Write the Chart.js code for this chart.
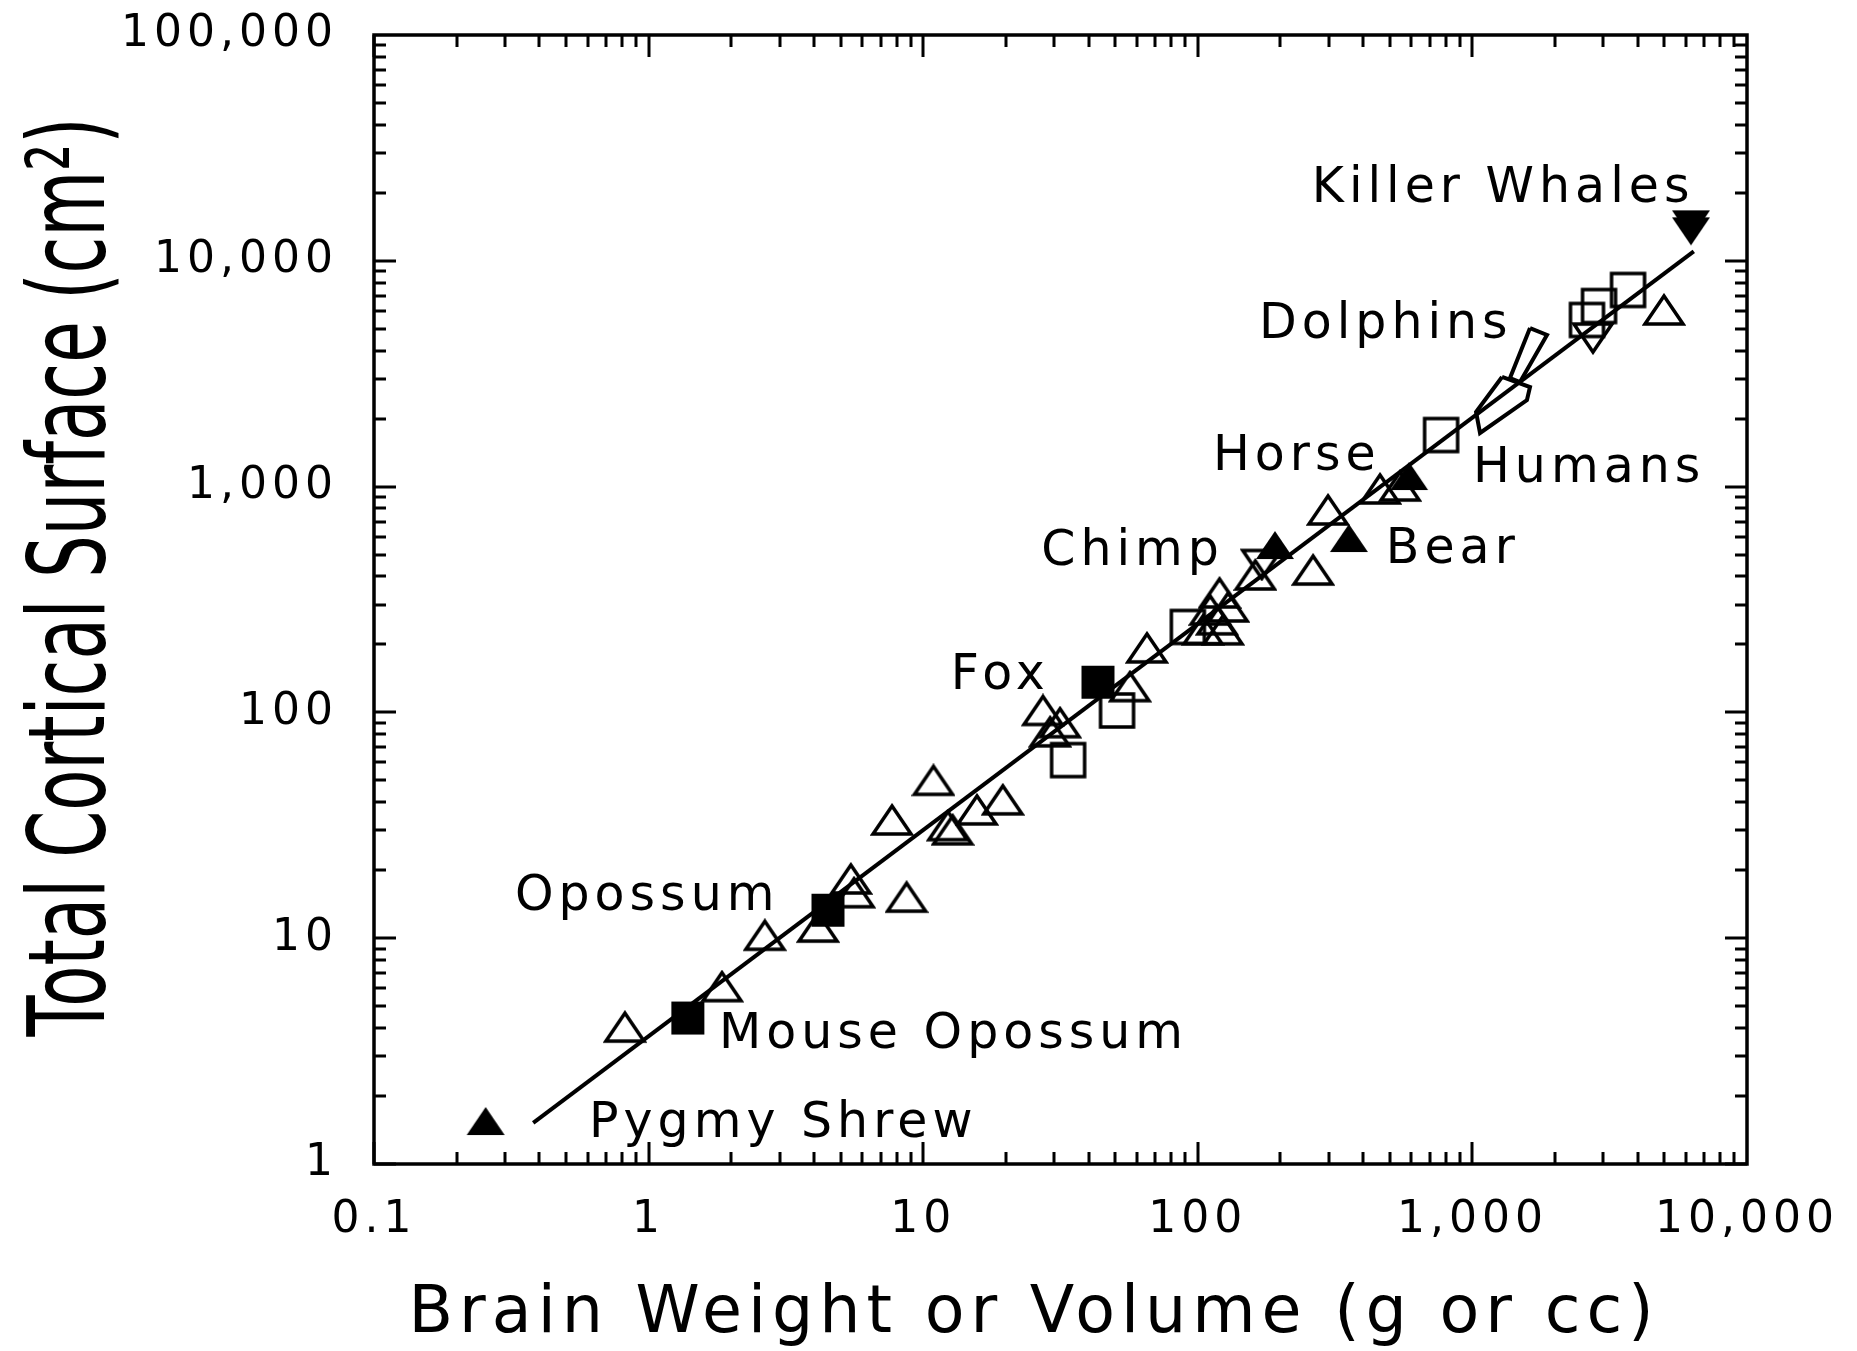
<!DOCTYPE html>
<html>
<head>
<meta charset="utf-8">
<script src="https://cdn.jsdelivr.net/npm/chart.js@4.4.1/dist/chart.umd.min.js"></script>
<style>
html, body { margin: 0; padding: 0; background: #fff; }
canvas { display: block; }
</style>
</head>
<body>
<canvas id="brainChart" width="1857" height="1351"></canvas>
<script>
// ---- axis ticks ----
const xTickValues = [0.1, 1, 10, 100, 1000, 10000];
const xTickLabels = ['0.1', '1', '10', '100', '1,000', '10,000'];
const yTickValues = [1, 10, 100, 1000, 10000, 100000];
const yTickLabels = ['1', '10', '100', '1,000', '10,000', '100,000'];

// ---- open triangles (other species) ----
const openTriX = [0.82, 1.85, 2.65, 4.14, 5.45, 5.6, 8.7, 7.7, 10.9, 12.3, 12.8, 15.7, 19.5,
                  27.3, 29, 31.5, 56.6, 65.3, 104.5, 111, 117.5, 120, 123.5, 129, 162, 263, 298, 461, 545, 4986];
const openTriY = [4.04, 6.1, 10.3, 11.2, 18.3, 15.9, 15.2, 33.4, 50, 31.5, 30.2, 37, 41,
                  102, 82, 90, 130, 193, 232, 284, 257, 338, 232, 293, 406, 427, 788, 976, 1006, 6055];

// ---- open squares ----
const openSqX = [33.7, 50.8, 92, 769, 2614, 2891, 3687];
const openSqY = [61.5, 102, 239, 1692, 5468, 6306, 7426];

// ---- open inverted triangles ----
const openDownX = [171, 2748];
const openDownY = [452, 4550];

// ---- filled squares: mouse opossum, opossum, fox ----
const fillSqX = [1.39, 4.5, 43.3];
const fillSqY = [4.43, 13.3, 136];

// ---- filled triangles: pygmy shrew, chimp, bear, horse ----
const fillTriX = [0.255, 191, 355, 588];
const fillTriY = [1.55, 551, 592, 1114];

// ---- filled inverted triangles: killer whales ----
const fillDownX = [6250, 6250];
const fillDownY = [14500, 13500];

// ---- regression line ----
const fitX = [0.38, 6400];
const fitY = [1.52, 11000];

// ---- range outlines ----
const dolphinX = [1621, 1869, 1491, 1371, 1621];
const dolphinY = [5035, 4692, 2905, 3027, 5035];
const humanX = [1282, 1621, 1580, 1066, 1031, 1282];
const humanY = [3058, 2761, 2418, 1728, 2140, 3058];

// ---- labels (text, anchor at left / cap middle) ----
const labelTexts = ['Killer Whales', 'Dolphins', 'Horse', 'Humans', 'Chimp', 'Bear', 'Fox',
                    'Opossum', 'Mouse Opossum', 'Pygmy Shrew'];
const labelX = [260, 167, 113.6, 1005, 26.9, 484, 12.6, 0.326, 1.805, 0.607];
const labelY = [21880, 5468, 1423, 1259, 540, 551, 152, 16.0, 3.92, 1.58];

const FONT = "'DejaVu Sans', 'Liberation Sans', sans-serif";
const zip = (xs, ys) => xs.map((x, i) => ({ x, y: ys[i] }));

function makeMarker(shape, filled) {
    const w = 38, h = 28, s = 33, pad = 3;
    const c = document.createElement('canvas');
    c.width = (shape === 'square' ? s : w) + pad * 2;
    c.height = (shape === 'square' ? s : h) + pad * 2;
    const g = c.getContext('2d');
    g.beginPath();
    if (shape === 'up') {
        g.moveTo(pad + w / 2, pad);
        g.lineTo(pad + w, pad + h);
        g.lineTo(pad, pad + h);
    } else if (shape === 'down') {
        g.moveTo(pad, pad);
        g.lineTo(pad + w, pad);
        g.lineTo(pad + w / 2, pad + h);
    } else {
        g.rect(pad, pad, s, s);
    }
    g.closePath();
    if (filled) {
        g.fillStyle = '#000';
        g.fill();
    } else {
        g.strokeStyle = '#000';
        g.lineWidth = 3.5;
        g.lineJoin = 'miter';
        g.stroke();
    }
    return c;
}

const spacing = {
    id: 'spacing',
    beforeUpdate(chart) { chart.ctx.letterSpacing = '5px'; },
    beforeDraw(chart) { chart.ctx.letterSpacing = '5px'; }
};

const noPad = s => {
    s.paddingLeft = 0; s.paddingRight = 0; s.paddingTop = 0; s.paddingBottom = 0;
};

const frame = {
    id: 'frame',
    afterDatasetsDraw(chart) {
        const { ctx, chartArea: a, scales: { x, y } } = chart;
        ctx.save();
        ctx.strokeStyle = '#000';
        ctx.lineWidth = 3;
        ctx.beginPath();
        for (let e = -1; e <= 3; e++) {
            for (let k = 1; k <= 9; k++) {
                const v = k * Math.pow(10, e);
                const px = Math.round(x.getPixelForValue(v));
                const len = k === 1 ? 22 : 12;
                ctx.moveTo(px, a.bottom); ctx.lineTo(px, a.bottom - len);
                ctx.moveTo(px, a.top); ctx.lineTo(px, a.top + len);
            }
        }
        for (let e = 0; e <= 4; e++) {
            for (let k = 1; k <= 9; k++) {
                const v = k * Math.pow(10, e);
                const py = Math.round(y.getPixelForValue(v));
                const len = k === 1 ? 22 : 12;
                ctx.moveTo(a.left, py); ctx.lineTo(a.left + len, py);
                ctx.moveTo(a.right, py); ctx.lineTo(a.right - len, py);
            }
        }
        ctx.stroke();
        ctx.lineWidth = 3.5;
        ctx.strokeRect(a.left, a.top, a.right - a.left, a.bottom - a.top);

        // species labels
        ctx.fillStyle = '#000';
        ctx.font = '49px ' + FONT;
        ctx.letterSpacing = '5px';
        ctx.textAlign = 'left';
        ctx.textBaseline = 'alphabetic';
        labelTexts.forEach((t, i) => {
            const px = x.getPixelForValue(labelX[i]);
            const py = y.getPixelForValue(labelY[i]);
            ctx.fillText(t, px, py + 49 * 0.365);
        });
        ctx.restore();
    },
    afterDraw(chart) {
        const { ctx, chartArea: a } = chart;
        ctx.save();
        ctx.fillStyle = '#000';
        ctx.letterSpacing = '6px';
        ctx.font = '65px ' + FONT;
        ctx.textAlign = 'center';
        ctx.textBaseline = 'alphabetic';
        ctx.fillText('Brain Weight or Volume (g or cc)', a.left + 660, 1332);

        ctx.letterSpacing = '0px';
        ctx.translate(104, 577);
        ctx.rotate(-Math.PI / 2);
        ctx.scale(0.63, 1);
        ctx.font = '107px ' + FONT;
        ctx.fillText('Total Cortical Surface (cm\u00B2)', 0, 0);
        ctx.restore();
    }
};

const pts = (data, style, extra) => Object.assign({
    data,
    pointStyle: style,
    pointRadius: 10,
    pointHoverRadius: 10,
    showLine: false,
    borderColor: '#000',
    backgroundColor: '#000'
}, extra || {});

const outline = (data) => ({
    data,
    showLine: true,
    pointRadius: 0,
    borderColor: '#000',
    borderWidth: 4,
    tension: 0,
    fill: false,
    order: 5
});

new Chart(document.getElementById('brainChart'), {
    type: 'scatter',
    data: {
        datasets: [
            pts(zip(fillDownX, fillDownY), makeMarker('down', true), { order: 0 }),
            pts(zip(fillTriX, fillTriY), makeMarker('up', true), { order: 0 }),
            pts(zip(fillSqX, fillSqY), makeMarker('square', true), { order: 0 }),
            pts(zip(openSqX, openSqY), makeMarker('square', false), { order: 2 }),
            pts(zip(openDownX, openDownY), makeMarker('down', false), { order: 2 }),
            pts(zip(openTriX, openTriY), makeMarker('up', false), { order: 2 }),
            outline(zip(fitX, fitY)),
            outline(zip(dolphinX, dolphinY)),
            outline(zip(humanX, humanY))
        ]
    },
    options: {
        responsive: false,
        animation: false,
        devicePixelRatio: 1,
        layout: { padding: { top: 35, right: 110, left: 0, bottom: 0 } },
        plugins: {
            legend: { display: false },
            tooltip: { enabled: false }
        },
        scales: {
            x: {
                type: 'logarithmic',
                min: 0.1,
                max: 10000,
                afterBuildTicks: s => { s.ticks = xTickValues.map(v => ({ value: v })); },
                afterFit: s => { s.height = 187; noPad(s); },
                ticks: {
                    autoSkip: false,
                    maxRotation: 0,
                    padding: 30,
                    color: '#000',
                    font: { family: FONT, size: 44 },
                    callback: (v, i) => xTickLabels[i]
                },
                grid: { display: false, drawTicks: false },
                border: { display: false }
            },
            y: {
                type: 'logarithmic',
                min: 1,
                max: 100000,
                afterBuildTicks: s => { s.ticks = yTickValues.map(v => ({ value: v })); },
                afterFit: s => { s.width = 374; noPad(s); },
                ticks: {
                    autoSkip: false,
                    padding: 36,
                    color: '#000',
                    font: { family: FONT, size: 44 },
                    callback: (v, i) => yTickLabels[i]
                },
                grid: { display: false, drawTicks: false },
                border: { display: false }
            }
        }
    },
    plugins: [spacing, frame]
});
</script>
</body>
</html>
